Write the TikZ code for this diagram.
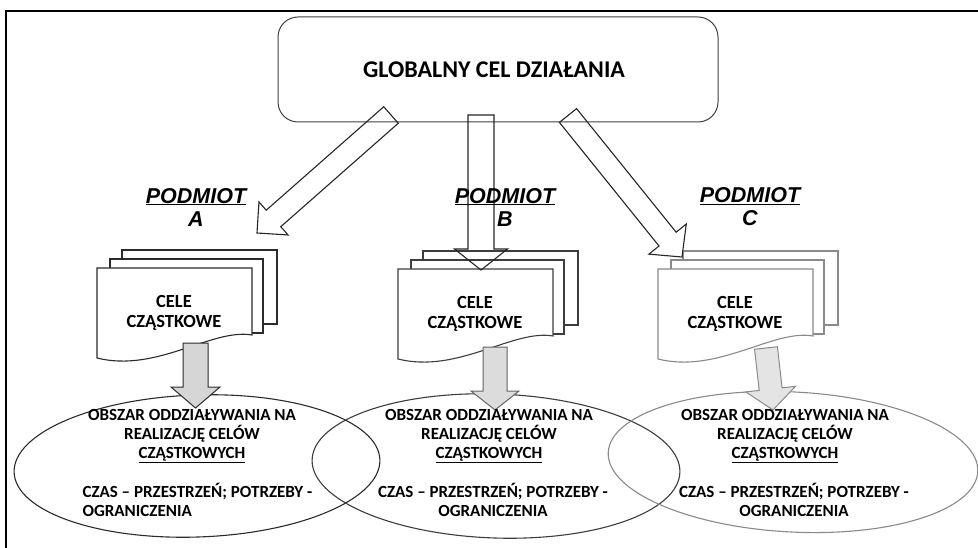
\documentclass[tikz,border=0pt]{standalone}
\usepackage{fontspec}
\setmainfont{Carlito}
\newfontfamily\arialfont{Liberation Sans}
\usetikzlibrary{calc,shapes.geometric}
\definecolor{inkA}{HTML}{2B2B2B}
\definecolor{inkB}{HTML}{3D3D3D}
\definecolor{inkC}{HTML}{8A8A8A}
\definecolor{fillA}{HTML}{D6D6D6}
\definecolor{fillB}{HTML}{DCDCDC}
\definecolor{fillC}{HTML}{E4E4E4}
\tikzset{
  frameline/.style={line width=1.8pt, black},
  goalbox/.style={draw=black!75, line width=1pt, rounded corners=20pt,
    minimum width=440pt, minimum height=105pt, inner sep=0pt},
  goalfont/.style={font=\fontsize{24}{28}\selectfont\bfseries},
  bigarrow/.style={draw=black!85, line width=1.1pt, line join=miter},
  sheet/.style={line width=1.1pt, fill=white},
  downarrow/.style={line width=1pt, line join=miter},
  area/.style={ellipse, draw, line width=1.1pt, inner sep=0pt},
  areatext/.style={font=\fontsize{17}{19}\selectfont\bfseries, align=center},
  podmiot/.style={font=\arialfont\fontsize{21.5}{23}\selectfont\bfseries\itshape, align=center},
  celetext/.style={font=\fontsize{18.5}{20}\selectfont\bfseries, align=center}
}
% #1 style, #2 tail, #3 tip, #4 half shaft, #5 half head, #6 head length
\newcommand\blockarrow[6]{%
  \path ($(#3)!#6!(#2)$) coordinate (ba-n);
  \draw[#1] ($(#2)!#4!90:(#3)$) -- ($(ba-n)!#4!90:(#3)$) -- ($(ba-n)!#5!90:(#3)$)
    -- (#3) -- ($(ba-n)!#5!-90:(#3)$) -- ($(ba-n)!#4!-90:(#3)$)
    -- ($(#2)!#4!-90:(#3)$) -- cycle;}
% #1 name, #2 x, #3 y, #4 colour
\newcommand\docstack[4]{%
  \begin{scope}[shift={(#2,#3)}]
    \draw[sheet, draw=#4] (25,-18) rectangle (180,56);
    \draw[sheet, draw=#4] (13,-9) rectangle (166,65);
    \draw[sheet, draw=#4] (0,0) -- (155,0) -- (155,67)
      .. controls (115,60) and (60,105) .. (0,90) -- cycle;
    \node[celetext] (#1) at (77,45) {CELE\\CZĄSTKOWE};
  \end{scope}}
\begin{document}
\begin{tikzpicture}[x=1pt,y=-1pt]
\useasboundingbox (0,0) rectangle (978,548);
\fill[white] (0,0) rectangle (978,548);
% frame
\coordinate (fTL) at (6,11);
\coordinate (fTR) at (978,11);
\coordinate (fBL) at (6,548);
\draw[frameline] (fTR) -- (fTL) -- (fBL);
% goal
\node[goalbox] (goal) at (498,69.5) {};
\node[goalfont] (goaltext) at (494,70) {GLOBALNY CEL DZIAŁANIA};
% ellipses
\node[area, draw=inkA, minimum width=366pt, minimum height=142pt, rotate=2] (areaA) at (197,466) {};
\node[area, draw=inkB, minimum width=368pt, minimum height=144pt, rotate=-2] (areaB) at (496,466) {};
\node[area, draw=inkC, minimum width=370pt, minimum height=140pt, rotate=-3] (areaC) at (793,462) {};
% stacks
\docstack{docA}{97}{268}{inkA}
\docstack{docB}{398}{269}{inkB}
\docstack{docC}{658}{269}{inkC}
% labels
\node[podmiot] (podA) at (196,207) {\underline{PODMIOT}\\A};
\node[podmiot] (podC) at (750,207) {\underline{PODMIOT}\\C};
% arrows from goal
\coordinate (tA) at (391,115);
\coordinate (hA) at (257,233);
\coordinate (tB) at (481,115);
\coordinate (hB) at (481,270);
\coordinate (tC) at (568,115.5);
\coordinate (hC) at (682,257);
\blockarrow{bigarrow}{tA}{hA}{11pt}{22pt}{22pt}
\blockarrow{bigarrow}{tB}{hB}{13pt}{26.5pt}{21pt}
\blockarrow{bigarrow}{tC}{hC}{11pt}{24pt}{23pt}
\node[podmiot] (podB) at (505,207) {\underline{PODMIOT}\\B};
% down arrows
\coordinate (dA1) at (195.5,343);
\coordinate (dA2) at (195.5,408);
\coordinate (dB1) at (495,347);
\coordinate (dB2) at (495,410);
\coordinate (dC1) at (766,348);
\coordinate (dC2) at (773,410);
\blockarrow{downarrow, draw=inkA, fill=fillA}{dA1}{dA2}{12.5pt}{24.5pt}{21pt}
\blockarrow{downarrow, draw=inkB!80, fill=fillB}{dB1}{dB2}{12pt}{24pt}{19pt}
\blockarrow{downarrow, draw=inkC, fill=fillC}{dC1}{dC2}{11.5pt}{25pt}{21pt}
% texts in areas
\node[areatext] (aA1) at (192,436) {OBSZAR ODDZIAŁYWANIA NA\\REALIZACJĘ CELÓW\\\underline{CZĄSTKOWYCH}};
\node[areatext, align=left, anchor=west] (aA2) at (79,500) {CZAS – PRZESTRZEŃ; POTRZEBY -\\OGRANICZENIA};
\node[areatext] (aB1) at (489,436) {OBSZAR ODDZIAŁYWANIA NA\\REALIZACJĘ CELÓW\\\underline{CZĄSTKOWYCH}};
\node[areatext] (aB2) at (493,500) {CZAS – PRZESTRZEŃ; POTRZEBY -\\OGRANICZENIA};
\node[areatext] (aC1) at (785,436) {OBSZAR ODDZIAŁYWANIA NA\\REALIZACJĘ CELÓW\\\underline{CZĄSTKOWYCH}};
\node[areatext] (aC2) at (794,500) {CZAS – PRZESTRZEŃ; POTRZEBY -\\OGRANICZENIA};
\end{tikzpicture}
\end{document}
